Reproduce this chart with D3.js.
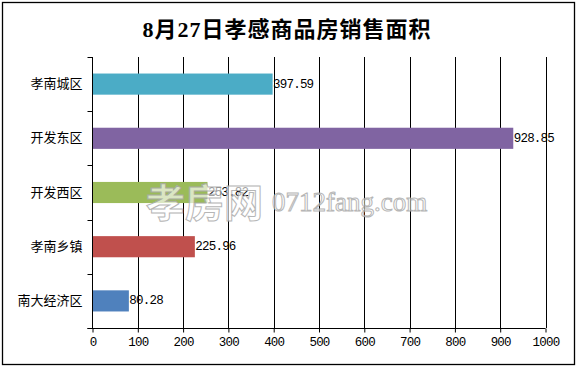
<!DOCTYPE html>
<html>
<head>
<meta charset="utf-8">
<script src="https://cdn.jsdelivr.net/npm/d3@7"></script>
<style>
  body { margin: 0; background: #fff; }
  svg { display: block; }
</style>
</head>
<body>
<div id="chart"></div>
<script>
// data
const title = "8月27日孝感商品房销售面积";
const categories = ["孝南城区", "开发东区", "开发西区", "孝南乡镇", "南大经济区"];
const values = [397.59, 928.85, 253.82, 225.96, 80.28];
const barColors = ["#4BACC6", "#8064A2", "#9BBB59", "#C0504D", "#4F81BD"];
const xTicks = [0, 100, 200, 300, 400, 500, 600, 700, 800, 900, 1000];
const watermarkCn = "孝房网";
const watermarkEn = "0712fang.com";

const width = 576;
const height = 366;
const plot = { left: 92.5, right: 545.5, top: 57, bottom: 328 };

const monoFont = "'Liberation Mono', 'DejaVu Sans Mono', monospace";
const cjkFont = "'Noto Sans CJK SC', sans-serif";

const svg = d3
  .select("#chart")
  .append("svg")
  .attr("width", width)
  .attr("height", height);

// outer frame
svg
  .append("rect")
  .attr("x", 2.5)
  .attr("y", 2.5)
  .attr("width", 572)
  .attr("height", 362)
  .attr("fill", "#fff")
  .attr("stroke", "#000")
  .attr("stroke-width", 1.3);

// title
svg
  .append("text")
  .attr("x", 287)
  .attr("y", 29)
  .attr("text-anchor", "middle")
  .attr("dominant-baseline", "central")
  .style("font-family", "'Liberation Serif', 'Noto Sans CJK SC', serif")
  .style("font-weight", "bold")
  .style("font-size", "22px")
  .style("letter-spacing", "1px")
  .text(title);

// scales
const x = d3.scaleLinear().domain([0, 1000]).range([plot.left, plot.right]);
const y = d3
  .scaleBand()
  .domain(categories)
  .range([plot.top, plot.bottom])
  .paddingInner(0.61)
  .paddingOuter(0.305);

const g = svg.append("g");

// vertical gridlines
g.selectAll(".grid")
  .data(xTicks.filter(d => d > 0))
  .enter()
  .append("line")
  .attr("class", "grid")
  .attr("x1", d => Math.round(x(d)) + 0.5)
  .attr("x2", d => Math.round(x(d)) + 0.5)
  .attr("y1", plot.top)
  .attr("y2", plot.bottom)
  .attr("stroke", "#000")
  .attr("stroke-width", 1);

// bars
g.selectAll(".bar")
  .data(categories)
  .enter()
  .append("rect")
  .attr("class", "bar")
  .attr("x", x(0))
  .attr("y", d => y(d))
  .attr("width", (d, i) => x(values[i]) - x(0))
  .attr("height", y.bandwidth())
  .attr("fill", (d, i) => barColors[i]);

// value labels
g.selectAll(".val")
  .data(categories)
  .enter()
  .append("text")
  .attr("class", "val")
  .attr("x", (d, i) => x(values[i]) + 0.5)
  .attr("y", d => y(d) + y.bandwidth() / 2 + 0.5)
  .attr("dominant-baseline", "central")
  .style("font-family", monoFont)
  .style("font-size", "12.5px")
  .style("letter-spacing", "-0.8px")
  .text((d, i) => values[i].toFixed(2));

// x axis
const xAxis = g
  .append("g")
  .attr("transform", `translate(0,${plot.bottom + 0.5})`)
  .call(
    d3.axisBottom(x)
      .tickValues(xTicks)
      .tickSizeInner(4)
      .tickSizeOuter(0)
      .tickPadding(5)
      .tickFormat(d3.format("d"))
  );
xAxis.select(".domain").attr("stroke", "#000").attr("d", `M${plot.left - 5},0H${plot.right}`);
xAxis.selectAll(".tick line").attr("stroke", "#000");
xAxis
  .selectAll(".tick text")
  .attr("fill", "#000")
  .style("font-family", monoFont)
  .style("font-size", "12.5px")
  .style("letter-spacing", "-0.8px");

// y axis
const yAxis = g
  .append("g")
  .attr("transform", `translate(${plot.left},0)`)
  .call(d3.axisLeft(y).tickSize(0).tickPadding(10));
yAxis.select(".domain").attr("stroke", "#000").attr("d", `M0,${plot.top}V${plot.bottom}`);
yAxis
  .selectAll(".tick text")
  .attr("fill", "#000")
  .style("font-family", cjkFont)
  .style("font-size", "13px");

// category boundary ticks
const boundaries = categories.map(d => y(d) - (y.step() * y.paddingInner()) / 2);
boundaries.push(plot.bottom);
g.selectAll(".ytick")
  .data(boundaries)
  .enter()
  .append("line")
  .attr("class", "ytick")
  .attr("x1", plot.left - 5)
  .attr("x2", plot.left)
  .attr("y1", d => Math.round(d) + 0.5)
  .attr("y2", d => Math.round(d) + 0.5)
  .attr("stroke", "#000");

// watermark
const wm = svg.append("g").attr("opacity", 0.85);
wm.append("text")
  .attr("x", 146)
  .attr("y", 217)
  .style("font-family", cjkFont)
  .style("font-weight", "bold")
  .style("font-size", "39px")
  .attr("fill", "rgba(255,255,255,0.75)")
  .attr("stroke", "#aaa")
  .attr("stroke-width", 1)
  .text(watermarkCn);
wm.append("text")
  .attr("x", 272)
  .attr("y", 211)
  .style("font-family", "'Liberation Serif', serif")
  .style("font-size", "27px")
  .attr("fill", "rgba(255,255,255,0.75)")
  .attr("stroke", "#aaa")
  .attr("stroke-width", 1)
  .text(watermarkEn);
</script>
</body>
</html>
